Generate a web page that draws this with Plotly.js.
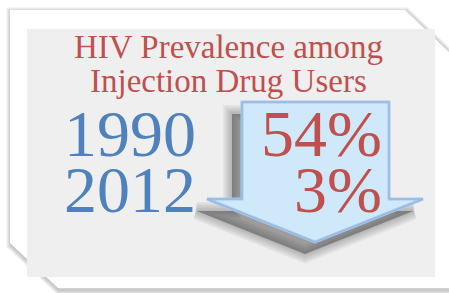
<!DOCTYPE html>
<html><head><meta charset="utf-8">
<script src="https://cdn.plot.ly/plotly-3.0.1.min.js"></script>
<style>html,body{margin:0;padding:0;background:#fff;}#chart{width:449px;height:293px;}</style>
</head><body><div id="chart"></div>
<script>
// ---- data ----
const titleLines = ['HIV Prevalence among', 'Injection Drug Users'];
const years = ['1990', '2012'];
const prevalence = [54, 3];

// ---- styling ----
const RED = '#c0504d';
const BLUE = '#4f81bd';
const FONT = 'Liberation Serif, Times New Roman, serif';

const shapes = [];
function path(d, fill, line, lw, opacity) {
  shapes.push({type: 'path', xref: 'x', yref: 'y', path: d, fillcolor: fill,
    line: {color: line || 'rgba(0,0,0,0)', width: lw || 0}, opacity: opacity == null ? 1 : opacity, layer: 'below'});
}
function poly(pts, dx, dy) {
  return 'M' + pts.map(p => (p[0] + dx) + ',' + (p[1] + dy)).join(' L') + ' Z';
}
// card shadow
const card = [[10,10],[405,10],[449,52],[449,288],[58,288],[10,243]];
for (let i = 4; i >= 1; i--) path(poly(card, 1, 2), 'rgba(0,0,0,0)', 'rgba(120,120,120,' + (0.12) + ')', i * 2.2);
path(poly(card, 0, 0), '#ffffff');
// gray panel
path('M27,29 L435,29 L435,277 L27,277 Z', '#efefef');
// arrow
const arrow = [[242,102],[389,102],[389,199],[423,199],[315,242],[207,199],[242,199]];
for (let i = 6; i >= 1; i--) {
  path(poly(arrow, -10, 12), 'rgba(60,60,60,' + (0.09) + ')', 'rgba(60,60,60,0.06)', i * 3);
}
path(poly(arrow, 0, 0), '#cfe9fa', '#a9c8ec', 3);
path(poly(arrow, 0, 0), 'rgba(0,0,0,0)', '#8eb4e0', 1);

const annotations = [];
titleLines.forEach((t, i) => {
  annotations.push({x: 228, y: 47 + i * 34, xref: 'x', yref: 'y', text: t, showarrow: false,
    xanchor: 'center', yanchor: 'middle', font: {family: FONT, size: 33, color: RED}});
});
years.forEach((yr, i) => {
  annotations.push({x: 62, y: 133 + i * 56, xref: 'x', yref: 'y', text: yr, showarrow: false,
    xanchor: 'left', yanchor: 'middle', font: {family: FONT, size: 66, color: BLUE}});
  annotations.push({x: 384, y: 133 + i * 56, xref: 'x', yref: 'y', text: prevalence[i] + '%', showarrow: false,
    xanchor: 'right', yanchor: 'middle', font: {family: FONT, size: 66, color: RED}});
});

const layout = {
  width: 449, height: 293, margin: {l: 0, r: 0, t: 0, b: 0},
  paper_bgcolor: '#ffffff', plot_bgcolor: '#ffffff', showlegend: false,
  xaxis: {range: [0, 449], visible: false, fixedrange: true},
  yaxis: {range: [293, 0], visible: false, fixedrange: true},
  shapes: shapes, annotations: annotations
};
Plotly.newPlot('chart', [{x: [], y: [], type: 'scatter', mode: 'markers'}], layout, {displayModeBar: false, staticPlot: true});
</script></body></html>
